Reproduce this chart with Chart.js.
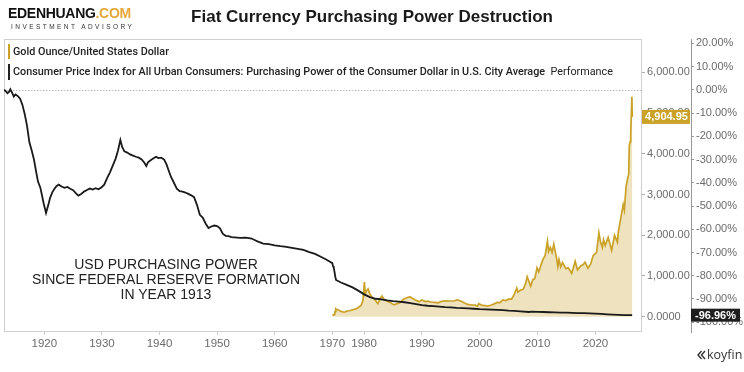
<!DOCTYPE html>
<html><head><meta charset="utf-8">
<script src="https://cdn.jsdelivr.net/npm/chart.js@4.4.1/dist/chart.umd.min.js"></script>
<style>
html,body{margin:0;padding:0;background:#fff;}
#wrap{position:relative;width:744px;height:372px;overflow:hidden;font-family:'Liberation Sans',Arial,sans-serif;}
#c{position:absolute;left:0;top:0;}
.abs{position:absolute;white-space:nowrap;}
.leg{font-family:Roboto,'Liberation Sans',sans-serif;font-weight:500;font-size:10.8px;color:#222;line-height:12px;}
.bar{position:absolute;width:1.5px;}
</style></head><body>
<div id="wrap">
<canvas id="c" width="744" height="372"></canvas>
<div class="abs" style="left:8px;top:5px;font-weight:bold;font-size:14px;letter-spacing:-0.3px;color:#111;line-height:17px;">EDENHUANG<span style="color:#E6A63A">.COM</span></div>
<div class="abs" style="left:11px;top:23px;font-size:6.5px;letter-spacing:2.45px;color:#333;line-height:8px;">INVESTMENT ADVISORY</div>
<div class="abs" style="left:0;width:744px;text-align:center;top:7px;font-size:17px;font-weight:bold;color:#1a1a1a;line-height:20px;">Fiat Currency Purchasing Power Destruction</div>
<div class="bar" style="left:8px;top:44px;height:15px;background:#C9A227;"></div>
<div class="abs leg" style="left:13px;top:45.5px;">Gold Ounce/United States Dollar</div>
<div class="bar" style="left:8px;top:64px;height:16px;background:#222;"></div>
<div class="abs leg" style="left:13px;top:65.5px;">Consumer Price Index for All Urban Consumers: Purchasing Power of the Consumer Dollar in U.S. City Average&nbsp; <span style="font-weight:400">Performance</span></div>
<div class="abs" style="left:16px;width:300px;text-align:center;top:257px;font-size:14px;line-height:15px;color:#222;">USD PURCHASING POWER<br>SINCE FEDERAL RESERVE FORMATION<br>IN YEAR 1913</div>
<div class="abs" style="left:697px;top:347px;font-size:12.5px;color:#333;line-height:15px;font-family:'Open Sans',sans-serif;">
<svg width="9" height="10" viewBox="0 0 9 10" style="vertical-align:-1px;margin-right:1px"><path d="M4.5 1 L1 5 L4.5 9 M8 1 L4.5 5 L8 9" stroke="#333" stroke-width="1.4" fill="none"/></svg>koyfin</div>
</div>
<script>
// ---------- DATA ----------
const xTickYears = [1920,1930,1940,1950,1960,1970,1980,1990,2000,2010,2020];
const goldTickValues = [0,1000,2000,3000,4000,5000,6000];
const pctTickValues = [-100,-90,-80,-70,-60,-50,-40,-30,-20,-10,0,10,20];

const cpiYears = [1913.0,1913.3,1913.6,1913.9,1914.1,1914.4,1914.7,1915.0,1915.4,1915.8,1916.2,1916.6,1917.0,1917.4,1917.8,1918.2,1918.6,1918.9,1919.3,1919.6,1919.9,1920.3,1920.7,1921.0,1921.4,1921.8,1922.1,1922.5,1923.0,1923.5,1924.0,1924.5,1925.0,1925.5,1925.9,1926.4,1926.9,1927.4,1927.9,1928.4,1928.9,1929.4,1929.9,1930.4,1930.9,1931.4,1931.9,1932.4,1932.8,1933.2,1933.5,1933.9,1934.4,1934.9,1935.4,1935.9,1936.4,1936.9,1937.4,1937.7,1938.0,1938.4,1938.9,1939.4,1939.8,1940.3,1940.8,1941.2,1941.6,1942.0,1942.5,1943.0,1943.5,1944.0,1944.5,1945.0,1945.5,1946.0,1946.5,1947.0,1947.5,1948.0,1948.5,1949.0,1949.5,1950.0,1950.5,1951.0,1951.5,1952.0,1952.5,1953.0,1954.0,1955.0,1956.0,1956.5,1957.0,1958.0,1959.0,1960.0,1961.0,1962.0,1963.0,1964.0,1965.0,1966.0,1967.0,1968.0,1969.0,1969.6,1970.0,1971.0,1972.0,1973.0,1974.0,1975.15,1976.0,1977.0,1978.0,1979.0,1980.0,1981.0,1982.0,1983.0,1984.0,1985.0,1986.0,1987.0,1988.0,1989.0,1990.0,1991.0,1992.0,1993.0,1994.0,1995.0,1996.0,1997.0,1998.0,1999.0,2000.0,2001.0,2002.0,2003.0,2004.0,2005.0,2006.0,2007.0,2008.5,2009.0,2010.0,2011.0,2012.0,2013.0,2014.0,2015.0,2016.0,2017.0,2018.0,2019.0,2020.0,2021.0,2022.0,2023.0,2024.0,2025.0,2026.35];
const cpiPerformance = [0.0,-0.6,-1.5,-0.8,0.2,-1.2,-2.9,-2.0,-2.7,-3.8,-6.5,-10.5,-15.5,-22.5,-26.0,-30.0,-35.5,-39.5,-42.0,-45.5,-49.0,-53.0,-49.5,-46.5,-44.0,-42.5,-41.5,-40.8,-41.6,-42.2,-41.8,-42.6,-43.2,-44.6,-45.5,-44.8,-43.8,-43.1,-42.5,-42.9,-42.3,-42.8,-42.0,-40.8,-38.0,-35.5,-32.5,-29.5,-26.0,-21.6,-24.5,-26.5,-27.0,-27.8,-28.3,-28.8,-29.2,-30.0,-31.5,-32.8,-31.2,-30.4,-29.6,-28.8,-29.4,-29.2,-30.0,-32.0,-34.8,-37.5,-40.0,-42.5,-43.6,-43.8,-44.2,-44.8,-45.4,-46.2,-49.5,-53.8,-55.0,-57.5,-59.5,-58.8,-58.4,-58.6,-59.6,-62.0,-62.8,-63.0,-63.4,-63.5,-63.7,-63.6,-64.0,-64.6,-65.2,-66.2,-66.4,-66.9,-67.3,-67.6,-68.0,-68.4,-68.9,-69.8,-70.6,-71.8,-73.1,-74.0,-74.6,-75.8,-76.6,-78.2,-80.2,-81.8,-82.9,-83.9,-85.0,-86.4,-88.0,-89.2,-89.9,-90.2,-90.6,-90.9,-91.1,-91.4,-91.8,-92.2,-92.6,-92.9,-93.1,-93.3,-93.5,-93.6,-93.8,-93.9,-94.0,-94.2,-94.4,-94.5,-94.6,-94.7,-94.8,-95.0,-95.1,-95.3,-95.6,-95.4,-95.5,-95.6,-95.7,-95.8,-95.9,-95.9,-96.0,-96.1,-96.1,-96.2,-96.3,-96.4,-96.6,-96.75,-96.85,-96.9,-96.96];

const goldYears = [1970.0,1971.0,1972.0,1973.0,1973.5,1974.0,1974.9,1975.2,1975.6,1976.0,1976.6,1977.0,1977.5,1978.0,1978.5,1979.0,1979.5,1979.8,1980.05,1980.2,1980.4,1980.7,1981.0,1981.4,1981.8,1982.4,1982.8,1983.1,1983.5,1984.0,1984.6,1985.2,1985.7,1986.2,1986.8,1987.3,1987.9,1988.5,1989.0,1989.5,1990.0,1990.6,1991.0,1991.6,1992.2,1992.8,1993.4,1994.0,1994.8,1995.5,1996.1,1996.7,1997.3,1997.9,1998.5,1999.2,1999.6,1999.8,2000.3,2000.9,2001.3,2001.9,2002.5,2003.0,2003.5,2004.0,2004.5,2005.0,2005.5,2006.0,2006.4,2006.6,2007.0,2007.5,2007.9,2008.2,2008.8,2009.2,2009.5,2009.9,2010.2,2010.5,2010.9,2011.3,2011.7,2011.9,2012.2,2012.5,2012.8,2013.3,2013.5,2013.7,2014.0,2014.3,2014.9,2015.3,2015.9,2016.5,2016.9,2017.5,2017.9,2018.2,2018.7,2019.2,2019.6,2020.2,2020.6,2020.9,2021.2,2021.4,2021.7,2022.2,2022.8,2023.3,2023.8,2023.95,2024.3,2024.8,2025.0,2025.3,2025.5,2025.75,2025.85,2026.0,2026.1,2026.3,2026.38];
const goldPrice = [35,40,48,65,120,130,190,178,165,130,110,135,145,170,185,225,280,390,850,560,630,680,560,470,430,320,450,510,420,380,340,290,320,340,430,460,490,440,400,370,410,370,380,360,350,340,380,390,385,385,410,385,340,300,290,285,255,320,285,270,260,280,315,350,345,410,395,430,430,560,700,600,650,670,800,980,750,920,930,1200,1100,1230,1400,1500,1850,1600,1700,1580,1780,1420,1230,1400,1220,1330,1180,1200,1060,1360,1150,1250,1280,1340,1190,1300,1500,1580,2060,1820,1700,1890,1750,1950,1630,2000,1830,2070,2350,2750,2620,3200,3350,3500,4200,4300,4500,5400,4904.95];

// ---------- AXIS SHAPE (koyfin compresses the early-1970s stretch) ----------
const X_BREAKS = [1913, 1970, 1975.15, 2028.05];
const X_WEIGHTS = [327.8, 3.7, 305.5];

class BrokenTimeScale extends Chart.LinearScale {
  static id = 'brokenTime';
  static defaults = {};
  _toFrac(v) {
    const total = X_WEIGHTS.reduce((a,b)=>a+b,0);
    let acc = 0;
    for (let i = 0; i < X_WEIGHTS.length; i++) {
      const a = X_BREAKS[i], b = X_BREAKS[i+1];
      if (v <= b || i === X_WEIGHTS.length-1) {
        return (acc + (v - a) / (b - a) * X_WEIGHTS[i]) / total;
      }
      acc += X_WEIGHTS[i];
    }
  }
  _fromFrac(f) {
    const total = X_WEIGHTS.reduce((a,b)=>a+b,0);
    let p = f * total, acc = 0;
    for (let i = 0; i < X_WEIGHTS.length; i++) {
      if (p <= acc + X_WEIGHTS[i] || i === X_WEIGHTS.length-1) {
        return X_BREAKS[i] + (p - acc) / X_WEIGHTS[i] * (X_BREAKS[i+1] - X_BREAKS[i]);
      }
      acc += X_WEIGHTS[i];
    }
  }
  getPixelForValue(v) {
    if (v === null || v === undefined || isNaN(v)) return NaN;
    return this.getPixelForDecimal(this._toFrac(v));
  }
  getValueForPixel(p) { return this._fromFrac(this.getDecimalForPixel(p)); }
}
Chart.register(BrokenTimeScale);

const FONT = "'Liberation Sans', Arial, sans-serif";
const GOLD = '#C9A227';

const framePlugin = {
  id: 'frame',
  beforeDatasetsDraw(chart) {
    const {ctx, chartArea: a} = chart;
    ctx.save();
    ctx.strokeStyle = '#cfcfcf';
    ctx.lineWidth = 1;
    ctx.strokeRect(Math.round(a.left)+0.5, Math.round(a.top)+0.5, Math.round(a.right-a.left)-1, Math.round(a.bottom-a.top)-1);
    const y0 = Math.round(chart.scales.yPct.getPixelForValue(0)) + 0.5;
    ctx.strokeStyle = '#bdbdbd';
    ctx.setLineDash([1.5, 1.5]);
    ctx.beginPath(); ctx.moveTo(a.left, y0); ctx.lineTo(a.right, y0); ctx.stroke();
    ctx.restore();
  },
  afterDraw(chart) {
    const {ctx} = chart;
    const gS = chart.scales.yGold, pS = chart.scales.yPct;
    ctx.save();
    ctx.font = 'bold 11px ' + FONT;
    ctx.textAlign = 'center'; ctx.textBaseline = 'middle';
    const gv = goldPrice[goldPrice.length-1];
    const gy = gS.getPixelForValue(gv);
    ctx.fillStyle = GOLD;
    ctx.fillRect(gS.left, gy - 7, gS.right - gS.left - 1, 14);
    ctx.fillStyle = '#fff';
    ctx.fillText(gv.toLocaleString('en-US',{minimumFractionDigits:2, maximumFractionDigits:2}), (gS.left + gS.right)/2, gy + 0.5);
    const pv = cpiPerformance[cpiPerformance.length-1];
    const py = pS.getPixelForValue(pv);
    ctx.fillStyle = '#1e1e1e';
    ctx.fillRect(pS.left, py - 6.5, 49, 13);
    ctx.fillStyle = '#fff';
    ctx.fillText(pv.toFixed(2) + '%', pS.left + 24.5, py + 0.5);
    ctx.restore();
  }
};

new Chart(document.getElementById('c'), {
  type: 'line',
  data: {
    datasets: [
      {
        label: 'Consumer Price Index for All Urban Consumers: Purchasing Power of the Consumer Dollar in U.S. City Average Performance',
        data: cpiYears.map((x,i)=>({x, y: cpiPerformance[i]})),
        xAxisID: 'x', yAxisID: 'yPct',
        borderColor: '#1a1a1a', borderWidth: 1.8, pointRadius: 0, fill: false, order: 0
      },
      {
        label: 'Gold Ounce/United States Dollar',
        data: goldYears.map((x,i)=>({x, y: goldPrice[i]})),
        xAxisID: 'x', yAxisID: 'yGold',
        borderColor: GOLD, borderWidth: 1.7, pointRadius: 0,
        fill: 'origin', backgroundColor: 'rgba(220,190,110,0.45)', order: 1
      }
    ]
  },
  options: {
    responsive: false, animation: false, devicePixelRatio: 1,
    layout: { padding: { left: 4, top: 39, right: 0, bottom: 0 } },
    plugins: { legend: { display: false }, tooltip: { enabled: false }, title: { display: false } },
    scales: {
      x: {
        type: 'brokenTime', position: 'bottom', min: 1913, max: 2028.05,
        afterBuildTicks: s => { s.ticks = xTickYears.map(v => ({value: v})); },
        afterFit: s => { s.height = 40; },
        ticks: { callback: v => String(v), autoSkip: false, maxRotation: 0, color: '#6b6b6b', font: { family: FONT, size: 11.5 }, padding: 2 },
        grid: { drawOnChartArea: false, drawTicks: true, tickLength: 3, color: '#cfcfcf' },
        border: { display: false }
      },
      yGold: {
        type: 'linear', position: 'right', min: -376, max: 6818,
        afterBuildTicks: s => { s.ticks = goldTickValues.map(v => ({value: v})); },
        afterFit: s => { s.width = 49; },
        ticks: { callback: v => v === 0 ? '0.0000' : v.toLocaleString('en-US',{minimumFractionDigits:2}), color: '#6b6b6b', font: { family: FONT, size: 11 }, padding: 2 },
        grid: { drawOnChartArea: false, drawTicks: true, tickLength: 3, color: '#aaa' },
        border: { display: false }
      },
      yPct: {
        type: 'linear', position: 'right', min: -104.2, max: 21.85,
        afterBuildTicks: s => { s.ticks = pctTickValues.map(v => ({value: v})); },
        afterFit: s => { s.width = 53; },
        ticks: { callback: v => v.toFixed(2) + '%', color: '#6b6b6b', font: { family: FONT, size: 11 }, padding: 2 },
        grid: { drawOnChartArea: false, drawTicks: true, tickLength: 3, color: '#999' },
        border: { display: true, color: '#999' }
      }
    }
  },
  plugins: [framePlugin]
});
</script>
</body></html>
